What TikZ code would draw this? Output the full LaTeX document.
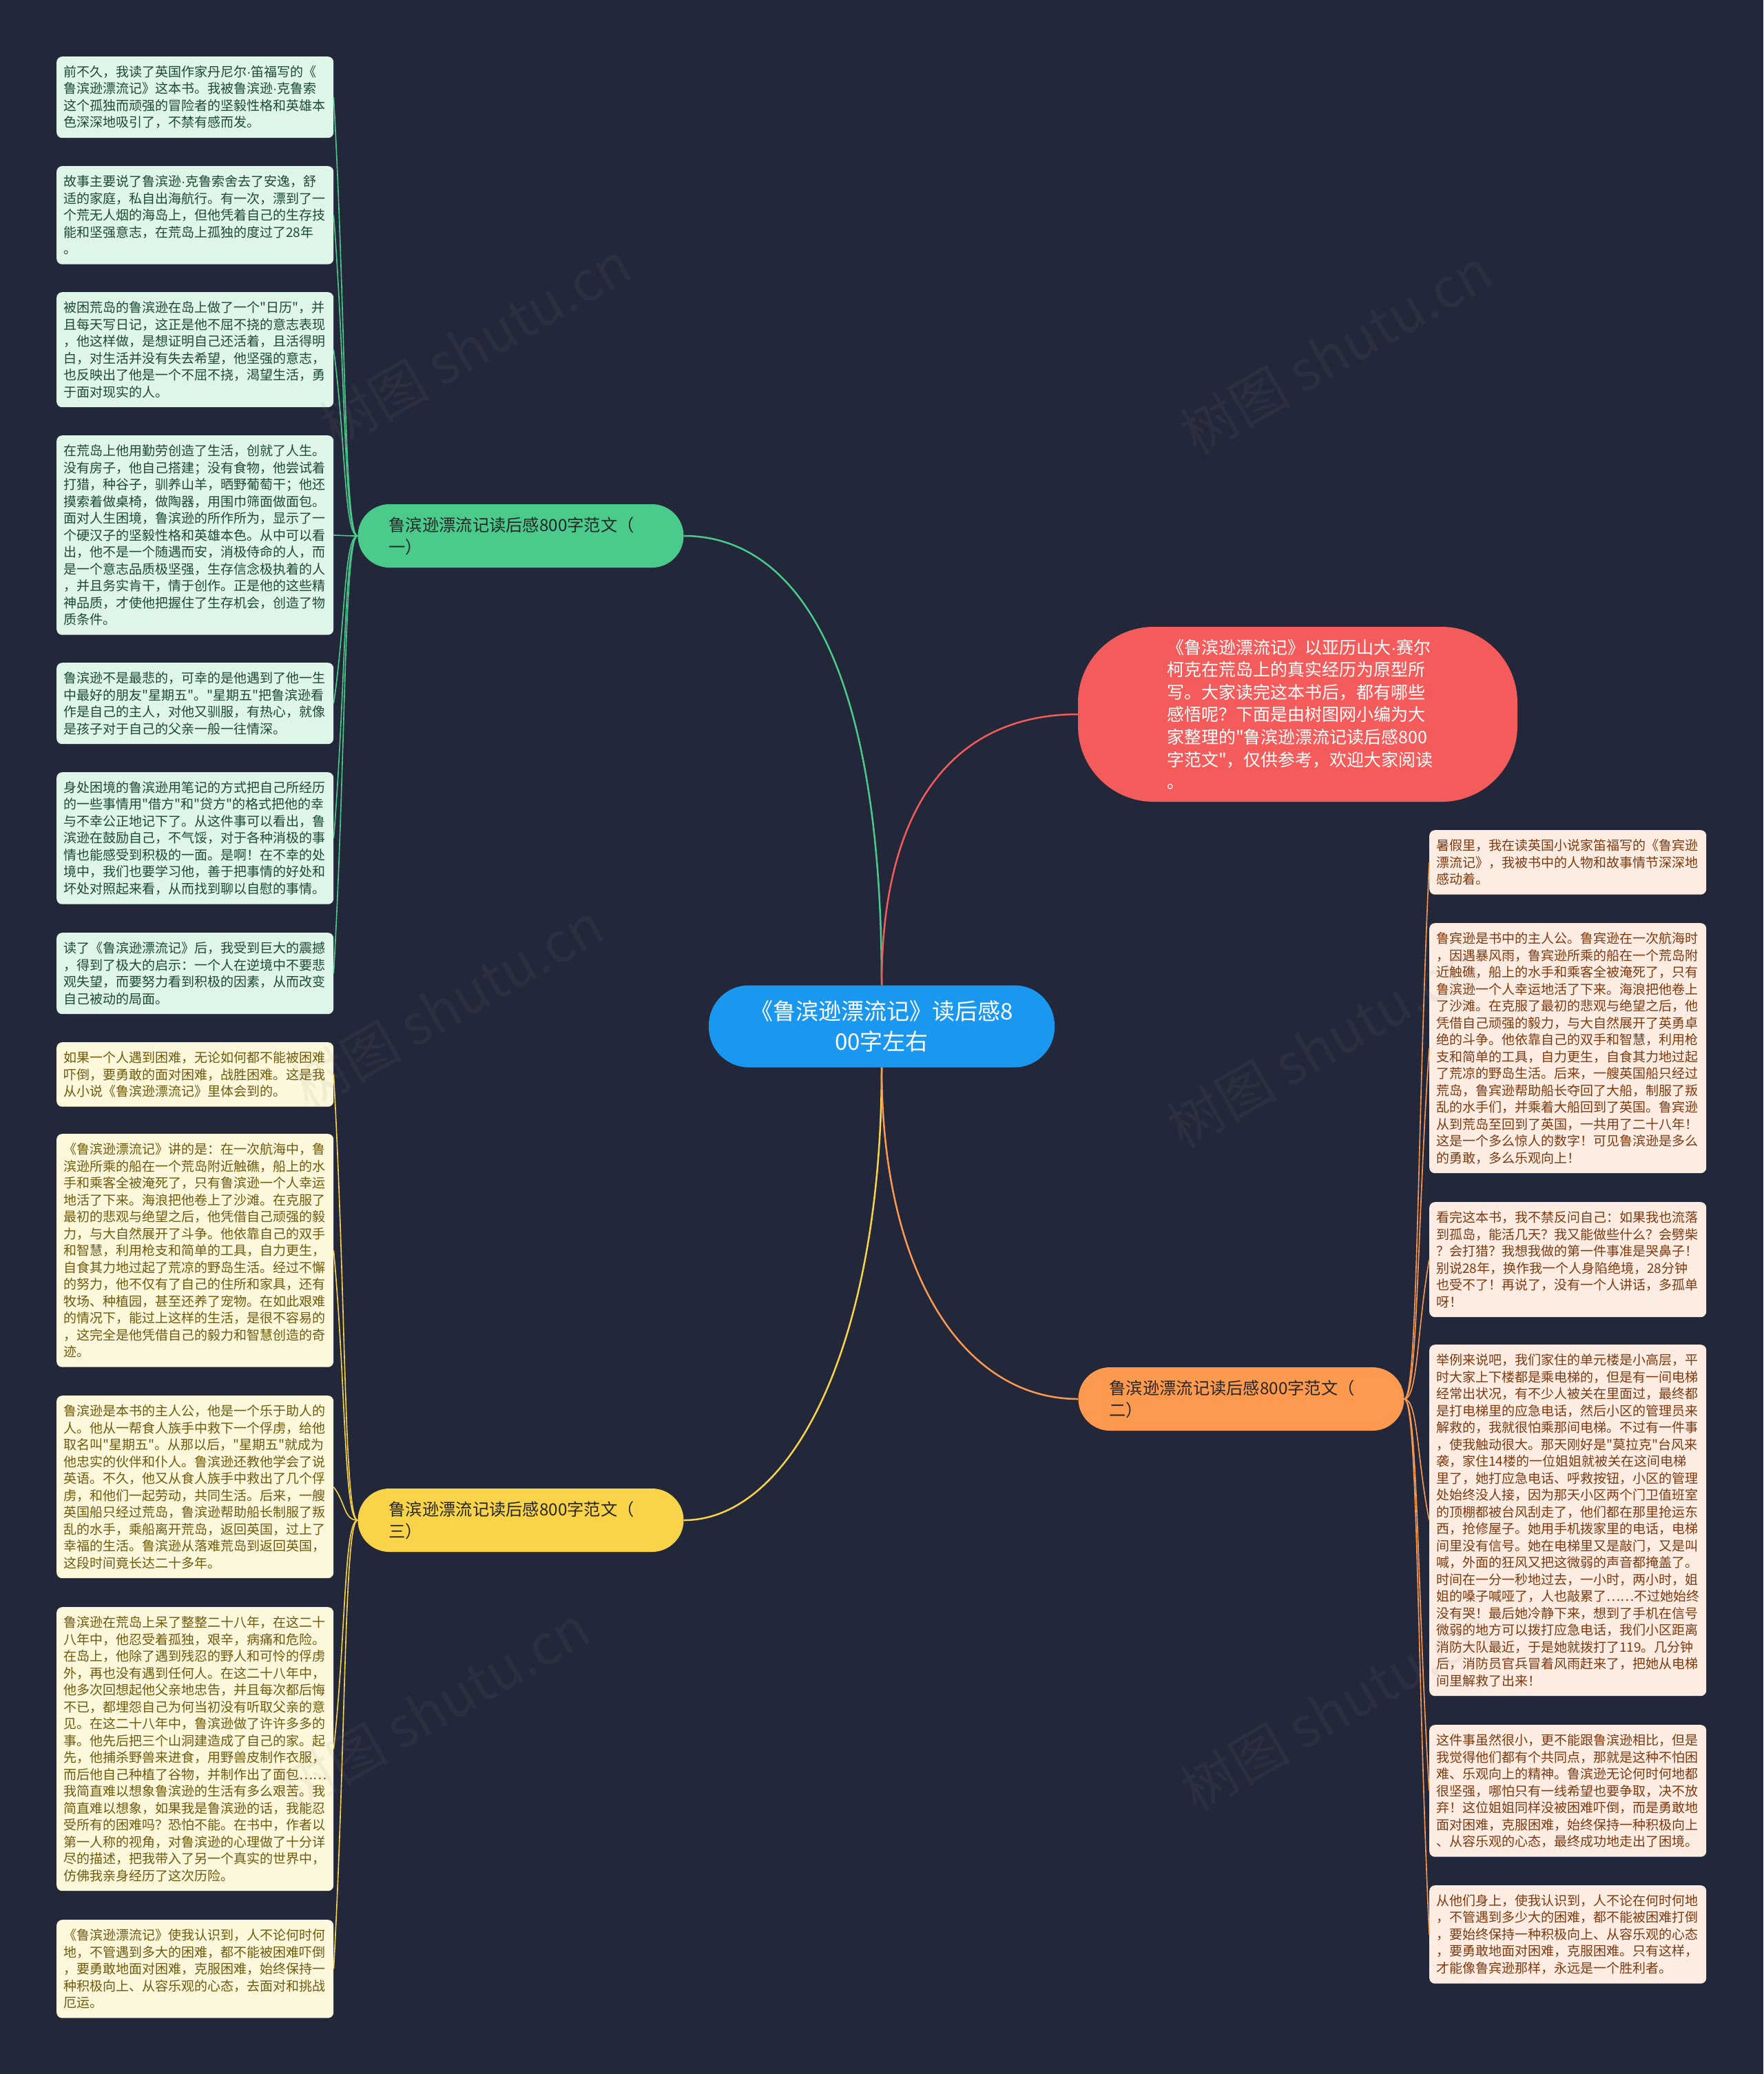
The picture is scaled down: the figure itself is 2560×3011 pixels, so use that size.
\documentclass[tikz,border=0pt]{standalone}
\usepackage{fontspec}
\usetikzlibrary{calc}
\newfontfamily\cjk{Noto Sans CJK SC}
\newfontfamily\lat{Liberation Sans}
\newcommand\md{{\lat ·}}
\definecolor{bg}{HTML}{23273A}
\definecolor{gfill}{HTML}{DEF5E8}
\definecolor{gtext}{HTML}{1E4A33}
\definecolor{gline}{HTML}{4ACB8C}
\definecolor{yfill}{HTML}{FDF7DB}
\definecolor{ytext}{HTML}{6E5B0E}
\definecolor{yline}{HTML}{F9D448}
\definecolor{ofill}{HTML}{FDECE2}
\definecolor{otext}{HTML}{7D3A10}
\definecolor{oline}{HTML}{FD9A50}
\definecolor{rline}{HTML}{F45B5B}
\definecolor{cblue}{HTML}{1A98F0}
\tikzset{
  leaf/.style={rounded corners=8pt, anchor=north west, text width=382pt, align=left,
    inner xsep=10pt, inner ysep=4pt, minimum height={#1*24.5pt+20pt},
    font={\cjk\fontsize{19pt}{24.5pt}\selectfont}},
  gleaf/.style={leaf=#1, fill=gfill, text=gtext},
  yleaf/.style={leaf=#1, fill=yfill, text=ytext},
  oleaf/.style={leaf=#1, fill=ofill, text=otext},
  branch/.style={rounded corners=46pt, minimum width=473pt, minimum height=92pt, text width=383pt,
    align=left, inner xsep=0pt, font={\cjk\fontsize{24.3pt}{32pt}\selectfont}, text=black!85},
  mainline/.style={line width=2.5pt},
  subline/.style={line width=1.6pt},
  wm/.style={rotate=30, font={\cjk\fontsize{80pt}{90pt}\selectfont}, text=gray, opacity=0.09}
}
\begin{document}
\begin{tikzpicture}[x=1pt,y=-1pt]
\fill[bg] (0,0) rectangle (2560,3011);
\useasboundingbox (0,0) rectangle (2560,3011);

% central
\node[fill=cblue, rounded corners=58pt, minimum width=502pt, minimum height=119pt, text=white,
  align=center, font={\cjk\fontsize{33pt}{44pt}\selectfont}] (c) at (1280,1490)
  {《鲁滨逊漂流记》读后感8\\00字左右};

% red intro
\node[fill=rline, rounded corners=110pt, minimum width=638pt, minimum height=254pt, text=white,
  text width=380pt, align=left, font={\cjk\fontsize{25pt}{32.6pt}\selectfont}] (r) at (1884,1037)
  {《鲁滨逊漂流记》以亚历山大\md 赛尔\\柯克在荒岛上的真实经历为原型所\\写。大家读完这本书后，都有哪些\\感悟呢？下面是由树图网小编为大\\家整理的"鲁滨逊漂流记读后感800\\字范文"，仅供参考，欢迎大家阅读\\。};

% branches
\node[branch, fill=gline] (bg1) at (756,778) {鲁滨逊漂流记读后感800字范文（\\一）};
\node[branch, fill=yline] (by) at (756,2207) {鲁滨逊漂流记读后感800字范文（\\三）};
\node[branch, fill=oline] (bo) at (1802,2031) {鲁滨逊漂流记读后感800字范文（\\二）};

% main connectors
\draw[mainline, gline] (c.north) .. controls (1280,950) and (1150,778) .. (bg1.east);
\draw[mainline, rline] (c.north) .. controls (1280,1150) and (1400,1037) .. (r.west);
\draw[mainline, yline] (c.south) .. controls (1280,1950) and (1150,2207) .. (by.east);
\draw[mainline, oline] (c.south) .. controls (1280,1850) and (1400,2031) .. (bo.west);

% green leaves
\node[gleaf=4] (g1) at (82,82) {前不久，我读了英国作家丹尼尔\md 笛福写的《\\鲁滨逊漂流记》这本书。我被鲁滨逊\md 克鲁索\\这个孤独而顽强的冒险者的坚毅性格和英雄本\\色深深地吸引了，不禁有感而发。};
\node[gleaf=5] (g2) at (82,241) {故事主要说了鲁滨逊\md 克鲁索舍去了安逸，舒\\适的家庭，私自出海航行。有一次，漂到了一\\个荒无人烟的海岛上，但他凭着自己的生存技\\能和坚强意志，在荒岛上孤独的度过了28年\\。};
\node[gleaf=6] (g3) at (82,424) {被困荒岛的鲁滨逊在岛上做了一个"日历"，并\\且每天写日记，这正是他不屈不挠的意志表现\\，他这样做，是想证明自己还活着，且活得明\\白，对生活并没有失去希望，他坚强的意志，\\也反映出了他是一个不屈不挠，渴望生活，勇\\于面对现实的人。};
\node[gleaf=11] (g4) at (82,632) {在荒岛上他用勤劳创造了生活，创就了人生。\\没有房子，他自己搭建；没有食物，他尝试着\\打猎，种谷子，驯养山羊，晒野葡萄干；他还\\摸索着做桌椅，做陶器，用围巾筛面做面包。\\面对人生困境，鲁滨逊的所作所为，显示了一\\个硬汉子的坚毅性格和英雄本色。从中可以看\\出，他不是一个随遇而安，消极侍命的人，而\\是一个意志品质极坚强，生存信念极执着的人\\，并且务实肯干，情于创作。正是他的这些精\\神品质，才使他把握住了生存机会，创造了物\\质条件。};
\node[gleaf=4] (g5) at (82,962) {鲁滨逊不是最悲的，可幸的是他遇到了他一生\\中最好的朋友"星期五"。"星期五"把鲁滨逊看\\作是自己的主人，对他又驯服，有热心，就像\\是孩子对于自己的父亲一般一往情深。};
\node[gleaf=7] (g6) at (82,1121) {身处困境的鲁滨逊用笔记的方式把自己所经历\\的一些事情用"借方"和"贷方"的格式把他的幸\\与不幸公正地记下了。从这件事可以看出，鲁\\滨逊在鼓励自己，不气馁，对于各种消极的事\\情也能感受到积极的一面。是啊！在不幸的处\\境中，我们也要学习他，善于把事情的好处和\\坏处对照起来看，从而找到聊以自慰的事情。};
\node[gleaf=4] (g7) at (82,1354) {读了《鲁滨逊漂流记》后，我受到巨大的震撼\\，得到了极大的启示：一个人在逆境中不要悲\\观失望，而要努力看到积极的因素，从而改变\\自己被动的局面。};

% yellow leaves
\node[yleaf=3] (y1) at (82,1513) {如果一个人遇到困难，无论如何都不能被困难\\吓倒，要勇敢的面对困难，战胜困难。这是我\\从小说《鲁滨逊漂流记》里体会到的。};
\node[yleaf=13] (y2) at (82,1646) {《鲁滨逊漂流记》讲的是：在一次航海中，鲁\\滨逊所乘的船在一个荒岛附近触礁，船上的水\\手和乘客全被淹死了，只有鲁滨逊一个人幸运\\地活了下来。海浪把他卷上了沙滩。在克服了\\最初的悲观与绝望之后，他凭借自己顽强的毅\\力，与大自然展开了斗争。他依靠自己的双手\\和智慧，利用枪支和简单的工具，自力更生，\\自食其力地过起了荒凉的野岛生活。经过不懈\\的努力，他不仅有了自己的住所和家具，还有\\牧场、种植园，甚至还养了宠物。在如此艰难\\的情况下，能过上这样的生活，是很不容易的\\，这完全是他凭借自己的毅力和智慧创造的奇\\迹。};
\node[yleaf=10] (y3) at (82,2026) {鲁滨逊是本书的主人公，他是一个乐于助人的\\人。他从一帮食人族手中救下一个俘虏，给他\\取名叫"星期五"。从那以后，"星期五"就成为\\他忠实的伙伴和仆人。鲁滨逊还教他学会了说\\英语。不久，他又从食人族手中救出了几个俘\\虏，和他们一起劳动，共同生活。后来，一艘\\英国船只经过荒岛，鲁滨逊帮助船长制服了叛\\乱的水手，乘船离开荒岛，返回英国，过上了\\幸福的生活。鲁滨逊从落难荒岛到返回英国，\\这段时间竟长达二十多年。};
\node[yleaf=16] (y4) at (82,2333) {鲁滨逊在荒岛上呆了整整二十八年，在这二十\\八年中，他忍受着孤独，艰辛，病痛和危险。\\在岛上，他除了遇到残忍的野人和可怜的俘虏\\外，再也没有遇到任何人。在这二十八年中，\\他多次回想起他父亲地忠告，并且每次都后悔\\不已，都埋怨自己为何当初没有听取父亲的意\\见。在这二十八年中，鲁滨逊做了许许多多的\\事。他先后把三个山洞建造成了自己的家。起\\先，他捕杀野兽来进食，用野兽皮制作衣服，\\而后他自己种植了谷物，并制作出了面包……\\我简直难以想象鲁滨逊的生活有多么艰苦。我\\简直难以想象，如果我是鲁滨逊的话，我能忍\\受所有的困难吗？恐怕不能。在书中，作者以\\第一人称的视角，对鲁滨逊的心理做了十分详\\尽的描述，把我带入了另一个真实的世界中，\\仿佛我亲身经历了这次历险。};
\node[yleaf=5] (y5) at (82,2787) {《鲁滨逊漂流记》使我认识到，人不论何时何\\地，不管遇到多大的困难，都不能被困难吓倒\\，要勇敢地面对困难，克服困难，始终保持一\\种积极向上、从容乐观的心态，去面对和挑战\\厄运。};

% orange leaves
\node[oleaf=3] (o1) at (2075,1205) {暑假里，我在读英国小说家笛福写的《鲁宾逊\\漂流记》，我被书中的人物和故事情节深深地\\感动着。};
\node[oleaf=14] (o2) at (2075,1340) {鲁宾逊是书中的主人公。鲁宾逊在一次航海时\\，因遇暴风雨，鲁宾逊所乘的船在一个荒岛附\\近触礁，船上的水手和乘客全被淹死了，只有\\鲁滨逊一个人幸运地活了下来。海浪把他卷上\\了沙滩。在克服了最初的悲观与绝望之后，他\\凭借自己顽强的毅力，与大自然展开了英勇卓\\绝的斗争。他依靠自己的双手和智慧，利用枪\\支和简单的工具，自力更生，自食其力地过起\\了荒凉的野岛生活。后来，一艘英国船只经过\\荒岛，鲁宾逊帮助船长夺回了大船，制服了叛\\乱的水手们，并乘着大船回到了英国。鲁宾逊\\从到荒岛至回到了英国，一共用了二十八年！\\这是一个多么惊人的数字！可见鲁滨逊是多么\\的勇敢，多么乐观向上！};
\node[oleaf=6] (o3) at (2075,1745) {看完这本书，我不禁反问自己：如果我也流落\\到孤岛，能活几天？我又能做些什么？会劈柴\\？会打猎？我想我做的第一件事准是哭鼻子！\\别说28年，换作我一个人身陷绝境，28分钟\\也受不了！再说了，没有一个人讲话，多孤单\\呀！};
\node[oleaf=20] (o4) at (2075,1952) {举例来说吧，我们家住的单元楼是小高层，平\\时大家上下楼都是乘电梯的，但是有一间电梯\\经常出状况，有不少人被关在里面过，最终都\\是打电梯里的应急电话，然后小区的管理员来\\解救的，我就很怕乘那间电梯。不过有一件事\\，使我触动很大。那天刚好是"莫拉克"台风来\\袭，家住14楼的一位姐姐就被关在这间电梯\\里了，她打应急电话、呼救按钮，小区的管理\\处始终没人接，因为那天小区两个门卫值班室\\的顶棚都被台风刮走了，他们都在那里抢运东\\西，抢修屋子。她用手机拨家里的电话，电梯\\间里没有信号。她在电梯里又是敲门，又是叫\\喊，外面的狂风又把这微弱的声音都掩盖了。\\时间在一分一秒地过去，一小时，两小时，姐\\姐的嗓子喊哑了，人也敲累了……不过她始终\\没有哭！最后她冷静下来，想到了手机在信号\\微弱的地方可以拨打应急电话，我们小区距离\\消防大队最近，于是她就拨打了119。几分钟\\后，消防员官兵冒着风雨赶来了，把她从电梯\\间里解救了出来！};
\node[oleaf=7] (o5) at (2075,2504) {这件事虽然很小，更不能跟鲁滨逊相比，但是\\我觉得他们都有个共同点，那就是这种不怕困\\难、乐观向上的精神。鲁滨逊无论何时何地都\\很坚强，哪怕只有一线希望也要争取，决不放\\弃！这位姐姐同样没被困难吓倒，而是勇敢地\\面对困难，克服困难，始终保持一种积极向上\\、从容乐观的心态，最终成功地走出了困境。};
\node[oleaf=5] (o6) at (2075,2737) {从他们身上，使我认识到，人不论在何时何地\\，不管遇到多少大的困难，都不能被困难打倒\\，要始终保持一种积极向上、从容乐观的心态\\，要勇敢地面对困难，克服困难。只有这样，\\才能像鲁宾逊那样，永远是一个胜利者。};

% sub connectors
\foreach \n in {g1,g2,g3,g4,g5,g6,g7}
  \draw[subline, gline] (bg1.west) .. controls ($(bg1.west)+(-20,0)$) and ($(\n.east |- bg1.west)!0.5!(\n.east)+(18,0)$) .. (\n.east);
\foreach \n in {y1,y2,y3,y4,y5}
  \draw[subline, yline] (by.west) .. controls ($(by.west)+(-20,0)$) and ($(\n.east |- by.west)!0.5!(\n.east)+(18,0)$) .. (\n.east);
\foreach \n in {o1,o2,o3,o4,o5,o6}
  \draw[subline, oline] (bo.east) .. controls ($(bo.east)+(20,0)$) and ($(\n.west |- bo.east)!0.5!(\n.west)+(-18,0)$) .. (\n.west);

% watermarks
\node[wm] (w1) at (690,500) {树图 shutu.cn};
\node[wm] (w2) at (1940,510) {树图 shutu.cn};
\node[wm] (w3) at (650,1460) {树图 shutu.cn};
\node[wm] (w4) at (1920,1517) {树图 shutu.cn};
\node[wm] (w5) at (630,2480) {树图 shutu.cn};
\node[wm] (w6) at (1940,2480) {树图 shutu.cn};
\end{tikzpicture}
\end{document}
